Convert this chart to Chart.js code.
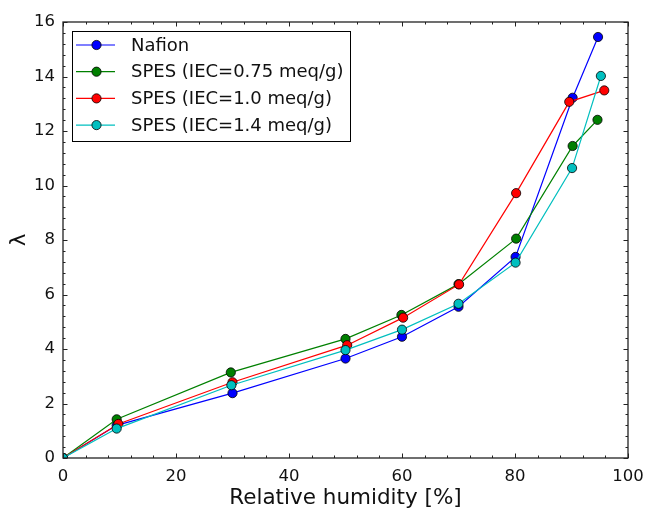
<!DOCTYPE html>
<html>
<head>
<meta charset="utf-8">
<script src="https://cdn.jsdelivr.net/npm/chart.js@4/dist/chart.umd.min.js"></script>
<style>
  html, body { margin: 0; padding: 0; background: #fff; }
  canvas { display: block; }
</style>
</head>
<body>
<canvas id="chart" width="648" height="511"></canvas>
<script>
// relative humidity [%] and water uptake lambda
const rhNafion = [0, 9.5, 30, 50, 60, 70, 80.1, 90.2, 94.7];
const lamNafion = [0, 1.2, 2.38, 3.65, 4.45, 5.55, 7.38, 13.22, 15.45];
const rhSpes075 = [0, 9.5, 29.7, 50, 59.9, 70, 80.2, 90.2, 94.6];
const lamSpes075 = [0, 1.42, 3.14, 4.37, 5.25, 6.38, 8.05, 11.45, 12.41];
const rhSpes10 = [0, 9.8, 30, 50.3, 60.2, 70.1, 80.2, 89.6, 95.8];
const lamSpes10 = [0, 1.25, 2.78, 4.14, 5.15, 6.37, 9.72, 13.07, 13.49];
const rhSpes14 = [0, 9.5, 29.8, 50, 60, 70, 80.1, 90.1, 95.2];
const lamSpes14 = [0, 1.08, 2.67, 3.96, 4.71, 5.66, 7.17, 10.64, 14.02];

const seriesNames = ['Nafion', 'SPES (IEC=0.75 meq/g)', 'SPES (IEC=1.0 meq/g)', 'SPES (IEC=1.4 meq/g)'];
const seriesColors = ['#0000ff', '#008000', '#ff0000', '#00bfbf'];
const xTicks = [0, 20, 40, 60, 80, 100];
const yTicks = [0, 2, 4, 6, 8, 10, 12, 14, 16];

const FONT = "'DejaVu Sans', sans-serif";

function toPoints(xs, ys) {
    return xs.map((x, i) => ({ x: x, y: ys[i] }));
}

const allX = [rhNafion, rhSpes075, rhSpes10, rhSpes14];
const allY = [lamNafion, lamSpes075, lamSpes10, lamSpes14];

const datasets = seriesNames.map((name, i) => ({
    label: name,
    data: toPoints(allX[i], allY[i]),
    borderColor: seriesColors[i],
    backgroundColor: seriesColors[i],
    borderWidth: 1.2,
    pointRadius: 4.6,
    pointBorderColor: '#000',
    pointBorderWidth: 0.8,
    pointBackgroundColor: seriesColors[i],
    tension: 0,
    clip: 0,
    order: 3 - i,   // later series on top, as in the figure
}));

// frame, inward ticks on all four sides, and the boxed legend
const framePlugin = {
    id: 'frame',
    afterDraw(chart) {
        const ctx = chart.ctx;
        const a = chart.chartArea;
        const xs = chart.scales.x;
        const ys = chart.scales.y;
        ctx.save();
        ctx.strokeStyle = '#222';
        ctx.lineWidth = 1;

        function tickX(v, len) {
            const px = Math.round(xs.getPixelForValue(v)) + 0.5;
            ctx.beginPath();
            ctx.moveTo(px, a.bottom); ctx.lineTo(px, a.bottom - len);
            ctx.moveTo(px, a.top); ctx.lineTo(px, a.top + len);
            ctx.stroke();
        }
        function tickY(v, len) {
            const py = Math.round(ys.getPixelForValue(v)) + 0.5;
            ctx.beginPath();
            ctx.moveTo(a.left, py); ctx.lineTo(a.left + len, py);
            ctx.moveTo(a.right, py); ctx.lineTo(a.right - len, py);
            ctx.stroke();
        }
        for (let v = 0; v <= 100; v += 4) tickX(v, xTicks.includes(v) ? 4.5 : 2.5);
        for (let k = 0; k <= 40; k++) {
            const v = k * 0.4;
            tickY(v, k % 5 === 0 ? 4.5 : 2.5);
        }

        ctx.lineWidth = 1.3;
        ctx.strokeRect(a.left, a.top, a.right - a.left, a.bottom - a.top);

        // legend
        const lx = 72, ly = 31, lw = 278, lh = 110;
        ctx.fillStyle = '#fff';
        ctx.fillRect(lx, ly, lw, lh);
        ctx.lineWidth = 1;
        ctx.strokeStyle = '#000';
        ctx.strokeRect(lx + 0.5, ly + 0.5, lw, lh);
        ctx.font = '18px ' + FONT;
        ctx.textBaseline = 'middle';
        seriesNames.forEach((name, i) => {
            const y = 45 + i * 26.7;
            ctx.strokeStyle = seriesColors[i];
            ctx.lineWidth = 1.2;
            ctx.beginPath();
            ctx.moveTo(76, y); ctx.lineTo(115, y);
            ctx.stroke();
            ctx.beginPath();
            ctx.arc(96.5, y, 4.6, 0, Math.PI * 2);
            ctx.fillStyle = seriesColors[i];
            ctx.fill();
            ctx.strokeStyle = '#000';
            ctx.lineWidth = 0.8;
            ctx.stroke();
            ctx.fillStyle = '#111';
            ctx.fillText(name, 131, y + 1);
        });
        ctx.restore();
    },
};

new Chart(document.getElementById('chart'), {
    type: 'line',
    data: { datasets: datasets },
    options: {
        responsive: false,
        animation: false,
        layout: { padding: { top: 22, right: 20, left: 0, bottom: 0 } },
        plugins: {
            legend: { display: false },
            tooltip: { enabled: false },
        },
        scales: {
            x: {
                type: 'linear',
                min: 0,
                max: 100,
                afterBuildTicks(scale) { scale.ticks = xTicks.map((v) => ({ value: v })); },
                afterFit(scale) {
                    scale.height = 53;
                    scale.paddingLeft = 0;
                    scale.paddingRight = 0;
                },
                grid: { display: false, drawTicks: false },
                border: { display: false },
                ticks: { color: '#111', font: { family: FONT, size: 16.5 }, padding: 9, maxRotation: 0 },
                title: {
                    display: true,
                    text: 'Relative humidity [%]',
                    color: '#111',
                    font: { family: FONT, size: 21.5 },
                    padding: { top: 0, bottom: 0 },
                },
            },
            y: {
                type: 'linear',
                min: 0,
                max: 16,
                afterBuildTicks(scale) { scale.ticks = yTicks.map((v) => ({ value: v })); },
                afterFit(scale) {
                    scale.width = 63;
                    scale.paddingTop = 0;
                    scale.paddingBottom = 0;
                },
                grid: { display: false, drawTicks: false },
                border: { display: false },
                ticks: { color: '#111', font: { family: FONT, size: 16.5 }, padding: 8 },
                title: {
                    display: true,
                    text: 'λ',
                    color: '#111',
                    font: { family: FONT, size: 21.5 },
                    padding: { top: 7, bottom: 0 },
                },
            },
        },
    },
    plugins: [framePlugin],
});
</script>
</body>
</html>
